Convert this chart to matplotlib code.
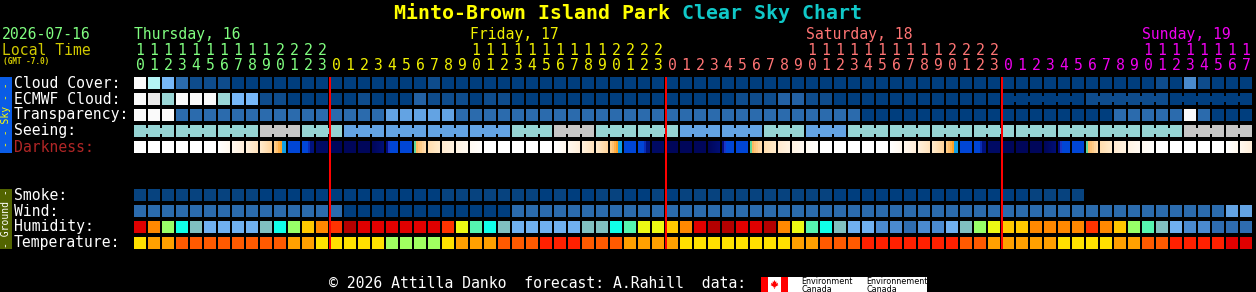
import matplotlib
matplotlib.use("Agg")
import matplotlib.pyplot as plt
from matplotlib.colors import to_rgb
from matplotlib.patches import Rectangle, Polygon
import numpy as np

# ---------------- chart content ----------------
title_yellow = "Minto-Brown Island Park "
title_cyan = "Clear Sky Chart"
date_text = "2026-07-16"
local_time_text = "Local Time"
gmt_text = "(GMT -7.0)"
footer_text = "\u00a9 2026 Attilla Danko  forecast: A.Rahill  data:"
logo_en = ["Environment", "Canada"]
logo_fr = ["Environnement", "Canada"]

day_names = ["Thursday, 16", "Friday, 17", "Saturday, 18", "Sunday, 19"]
day_colors = ["#80FF80", "#F0F000", "#FF7474", "#F000F0"]

# local hour of each forecast column
hours = [10, 11, 12, 13, 14, 15, 16, 17, 18, 19, 20, 21, 22, 23,
         0, 1, 2, 3, 4, 5, 6, 7, 8, 9, 10, 11, 12, 13, 14, 15, 16, 17, 18, 19, 20, 21, 22, 23,
         0, 1, 2, 3, 4, 5, 6, 7, 8, 9, 10, 11, 12, 13, 14, 15, 16, 17, 18, 19, 20, 21, 22, 23,
         0, 1, 2, 3, 4, 5, 6, 7, 8, 9, 10, 11, 12, 13, 14, 15, 16, 17]

sky_labels = ["Cloud Cover:", "ECMWF Cloud:", "Transparency:", "Seeing:", "Darkness:"]
sky_label_colors = ["white", "white", "white", "white", "#B02626"]
ground_labels = ["Smoke:", "Wind:", "Humidity:", "Temperature:"]

# cloud-type palette (0 = dark blue ... 10 = white)
cloud_palette = ["#003E7E", "#0E4C8C", "#2361A3", "#2B6BAD", "#4A8ACC", "#63A3E3",
                 "#77B7F7", "#9AD6D6", "#B4F4F4", "#EAEAEA", "#FAFAFA"]

cloud_cover = [10, 8, 6, 3, 1, 1, 1, 0, 0, 0,
               0, 0, 0, 0, 0, 0, 0, 0, 0, 0,
               0, 1, 0, 0, 0, 0, 0, 0, 0, 0,
               0, 0, 0, 0, 0, 0, 0, 0, 0, 0,
               0, 0, 0, 0, 0, 0, 0, 0, 0, 0,
               0, 0, 0, 0, 0, 0, 0, 0, 0, 0,
               0, 0, 0, 0, 0, 0, 0, 0, 0, 0,
               0, 0, 0, 1, 0, 4, 1, 0, 0, 0]

ecmwf_cloud = [10, 9, 7, 10, 10, 10, 7, 6, 6, 1,
               1, 0, 0, 0, 0, 0, 1, 0, 0, 0,
               2, 1, 1, 1, 0, 1, 1, 0, 0, 0,
               0, 0, 0, 0, 0, 0, 0, 0, 0, 0,
               0, 0, 0, 1, 1, 1, 2, 2, 1, 1,
               0, 0, 0, 0, 0, 0, 0, 0, 0, 0,
               0, 0, 0, 0, 0, 0, 0, 0, 1, 1,
               1, 1, 1, 1, 0, 0, 0, 0, 0, 0]
ecmwf_joined = [(62, 67), (68, 73), (74, 79)]

transparency = [10, 10, 10, 3, 3, 3, 3, 3, 3, 3,
                3, 3, 3, 3, 3, 3, 3, 3, 5, 5,
                5, 5, 5, 3, 3, 3, 3, 3, 3, 3,
                3, 3, 3, 3, 3, 3, 3, 3, 3, 3,
                3, 3, 3, 3, 3, 3, 3, 3, 3, 3,
                3, 3, 0, 0, 0, 0, 0, 0, 0, 0,
                0, 0, 0, 0, 0, 0, 0, 0, 0, 0,
                3, 3, 3, 3, 3, 10, 3, 0, 0, 0]

# seeing, one value per 3-hour block (1 bad, 2 poor, 3 average)
seeing_palette = {1: "#C6C6C6", 2: "#96D4D4", 3: "#63A3E3"}
seeing_blocks = [2, 2, 2, 1, 2, 3, 3, 3, 3, 2, 1, 2, 2, 3,
                 3, 2, 3, 2, 2, 2, 2, 2, 2, 2, 2, 1, 1]

# darkness colours: str = solid, tuple = left->right gradient, list = stripes
DAY = "#FFFFFF"
NIGHT = "#00065A"
BLUE = "#0046D6"
LATE = "#000A64"
EV1 = ("#FFFFFF", "#FFF8EE")
EV2 = ("#FFF8EE", "#FFEEDA")
EV3 = ("#FFF0DC", "#FFE2BC")
EV4 = ("#FFEACC", "#FFD49C")
SUNSET = ["#FFCC84", "#FFC070", "#FFB048", "#FFA024", "#12A0E4", "#12A0E4"]
DUSK = [BLUE, BLUE, BLUE, "#0A2CB4", "#00127E", "#00127E"]
PREDAWN = ("#00065A", "#000E74")
DAWN = ["#000C80", "#1A34C4", BLUE, BLUE, BLUE, BLUE]
SUNRISE = ["#5CD89C", "#FFB860", "#FFC47A", "#FFCC88", "#FFD49C", "#FFDCAC"]
MO1 = ("#FFDEB0", "#FFEACA")
MO2 = ("#FFEAD0", "#FFF2E0")
MO3 = ("#FFF3E4", "#FFF9F0")
MO4 = ("#FFFAF2", "#FFFEFC")
darkness = [DAY, DAY, DAY, DAY, DAY, DAY, EV1, EV2, EV3, EV4, SUNSET, BLUE, DUSK, LATE,
            NIGHT, NIGHT, NIGHT, PREDAWN, DAWN, BLUE, SUNRISE, MO1, MO2, MO3, MO4,
            DAY, DAY, DAY, DAY, DAY, EV1, EV2, EV3, EV4, SUNSET, BLUE, DUSK, LATE,
            NIGHT, NIGHT, NIGHT, PREDAWN, DAWN, BLUE, SUNRISE, MO1, MO2, MO3, MO4,
            DAY, DAY, DAY, DAY, DAY, EV1, EV2, EV3, EV4, SUNSET, BLUE, DUSK, LATE,
            NIGHT, NIGHT, NIGHT, PREDAWN, DAWN, BLUE, SUNRISE, MO1, MO2, MO3, MO4,
            DAY, DAY, DAY, DAY, DAY, EV1, EV2]

smoke_palette = ["#003E7E", "#07437F"]
smoke = [1, 1, 1, 1, 1, 1, 1, 1, 1, 0,
         0, 0, 0, 0, 0, 0, 0, 0, 0, 0,
         0, 0, 1, 1, 1, 1, 1, 1, 1, 0,
         1, 0, 0, 1, 1, 0, 0, 1, 0, 1,
         1, 1, 1, 1, 1, 1, 1, 1, 1, 1,
         0, 0, 0, 0, 0, 0, 0, 0, 0, 0,
         0, 0, 0, 0, 1, 1, 1, 1]

wind_palette = ["#003E7E", "#2B6BAD", "#63A3E3"]
wind = [1, 1, 1, 1, 1, 1, 1, 1, 1, 1,
        1, 1, 1, 1, 1, 0, 0, 0, 0, 0,
        0, 0, 0, 0, 0, 0, 0, 1, 1, 1,
        1, 1, 1, 1, 1, 1, 1, 1, 1, 1,
        1, 1, 1, 1, 1, 1, 1, 1, 1, 1,
        1, 1, 1, 1, 1, 1, 1, 1, 1, 1,
        1, 1, 1, 1, 1, 1, 1, 1, 1, 1,
        1, 1, 1, 1, 1, 1, 1, 1, 2, 2]

humidity_palette = ["#2E6CB0", "#4A8AD0", "#70B0F0", "#80C0C0", "#10FFE8", "#55F5B0",
                    "#98FF68", "#ECFA14", "#FFC800", "#FF8800", "#FF3300", "#E00000", "#B40000"]
humidity = [11, 9, 6, 4, 3, 2, 2, 2, 2, 3,
            4, 6, 8, 9, 10, 12, 11, 11, 11, 11,
            11, 11, 10, 7, 5, 4, 3, 2, 2, 2,
            2, 2, 3, 3, 4, 5, 7, 7, 8, 9,
            11, 12, 12, 11, 11, 12, 9, 7, 5, 4,
            3, 2, 2, 1, 1, 0, 1, 1, 2, 3,
            6, 7, 8, 8, 9, 9, 9, 9, 10, 9,
            8, 6, 5, 3, 2, 1, 1, 0, 0, 0]

temperature_palette = ["#A0FF60", "#FFE000", "#FFA000", "#FF5A00", "#FF2000", "#E00000"]
temperature = [1, 2, 2, 3, 3, 3, 3, 3, 3, 3,
               3, 2, 2, 1, 1, 1, 1, 1, 0, 0,
               0, 0, 1, 2, 2, 2, 3, 3, 3, 4,
               4, 4, 3, 3, 3, 2, 2, 2, 2, 1,
               1, 1, 1, 1, 1, 1, 1, 2, 2, 3,
               3, 3, 4, 4, 4, 4, 4, 4, 4, 3,
               3, 2, 2, 2, 2, 2, 1, 1, 1, 1,
               2, 2, 3, 3, 4, 4, 4, 4, 5, 5]

# ---------------- layout ----------------
W, H = 1256, 292
X0, PITCH, CW, CH = 134, 14, 12, 12
SKY_TOP, GROUND_TOP, ROW_PITCH = 77, 189, 16
MONO = "DejaVu Sans Mono"
FS = 10.65

fig = plt.figure(figsize=(W / 100, H / 100), dpi=100, facecolor="black")
ax = fig.add_axes([0, 0, 1, 1])
ax.set_facecolor("black")
ax.set_xlim(0, W)
ax.set_ylim(H, 0)
ax.axis("off")


def col_x(c):
    return X0 + c * PITCH


def draw_row(top, colors, cols=None):
    if cols is None:
        cols = range(len(colors))
    ax.bar([col_x(c) for c in cols], CH, width=CW, bottom=top, color=list(colors),
           align="edge", linewidth=0, antialiased=False)


def draw_join(top, c, color):
    ax.bar(col_x(c) + CW, 6, width=PITCH - CW, bottom=top + 3, color=color,
           align="edge", linewidth=0, antialiased=False)


ncol = len(hours)
row_tops = [SKY_TOP + i * ROW_PITCH for i in range(5)]
g_tops = [GROUND_TOP + i * ROW_PITCH for i in range(4)]

# cloud cover / ecmwf / transparency
draw_row(row_tops[0], [cloud_palette[v] for v in cloud_cover])
draw_row(row_tops[1], [cloud_palette[v] for v in ecmwf_cloud])
for a, b in ecmwf_joined:
    for c in range(a, b):
        draw_join(row_tops[1], c, cloud_palette[ecmwf_cloud[c]])
draw_row(row_tops[2], [cloud_palette[v] for v in transparency])

# seeing (3 hour blocks)
for bi, v in enumerate(seeing_blocks):
    cols = [c for c in range(bi * 3, bi * 3 + 3) if c < ncol]
    col = seeing_palette[v]
    draw_row(row_tops[3], [col] * len(cols), cols)
    for c in cols[:-1]:
        draw_join(row_tops[3], c, col)

# darkness
xs, ws, cs = [], [], []
for c, spec in enumerate(darkness):
    x = col_x(c)
    if isinstance(spec, str):
        xs.append(x); ws.append(CW); cs.append(spec)
    elif isinstance(spec, tuple):
        a = np.array(to_rgb(spec[0])); b = np.array(to_rgb(spec[1]))
        for k in range(CW):
            t = k / (CW - 1)
            xs.append(x + k); ws.append(1); cs.append(tuple(a * (1 - t) + b * t))
    else:
        w = CW / len(spec)
        for k, cc in enumerate(spec):
            xs.append(x + k * w); ws.append(w); cs.append(cc)
ax.bar(xs, CH, width=ws, bottom=row_tops[4], color=cs, align="edge",
       linewidth=0, antialiased=False)

# ground rows
draw_row(g_tops[0], [smoke_palette[v] for v in smoke])
draw_row(g_tops[1], [wind_palette[v] for v in wind])
draw_row(g_tops[2], [humidity_palette[v] for v in humidity])
draw_row(g_tops[3], [temperature_palette[v] for v in temperature])

# midnight lines
for c, h in enumerate(hours):
    if h == 0 and c > 0:
        ax.add_patch(Rectangle((col_x(c) - 1, SKY_TOP), 2, g_tops[3] + CH - SKY_TOP,
                               color="#FF0000", linewidth=0, antialiased=False, zorder=5))

# ---------------- texts ----------------
t1 = ax.text(W / 2 - 19.5 * 12, 19, title_yellow, color="#FFFF00", fontsize=14.35,
             fontweight="bold", family=MONO, va="baseline", ha="left")
ax.text(W / 2 - 19.5 * 12 + len(title_yellow) * 12, 19, title_cyan, color="#10C8C8",
        fontsize=14.35, fontweight="bold", family=MONO, va="baseline", ha="left")

ax.text(2, 39, date_text, color="#80FF80", fontsize=FS, family=MONO, va="baseline")
ax.text(2, 55, local_time_text, color="#D0C800", fontsize=FS, family=MONO, va="baseline")
ax.text(3, 64, gmt_text, color="#D0C800", fontsize=5.6, family=MONO, va="baseline",
        fontweight="bold")

day = 0
for c, h in enumerate(hours):
    if h == 0 and c > 0:
        day += 1
    col = day_colors[day]
    cx = col_x(c) + CW / 2
    if h == 10:
        ax.text(col_x(c), 39, day_names[day], color=col, fontsize=FS, family=MONO,
                va="baseline", ha="left")
    if h >= 10:
        ax.text(cx, 55, str(h // 10), color=col, fontsize=FS, family=MONO,
                va="baseline", ha="center")
    ax.text(cx, 70.5, str(h % 10), color=col, fontsize=FS, family=MONO,
            va="baseline", ha="center")

for i, lab in enumerate(sky_labels):
    ax.text(14, row_tops[i] + 10.5, lab, color=sky_label_colors[i], fontsize=FS,
            family=MONO, va="baseline")
for i, lab in enumerate(ground_labels):
    ax.text(14, g_tops[i] + 10.5, lab, color="white", fontsize=FS, family=MONO,
            va="baseline")

# side boxes
sky_bottom = row_tops[4] + CH
ax.add_patch(Rectangle((0, SKY_TOP), 12, sky_bottom - SKY_TOP, color="#0A5CE6",
                       linewidth=0, antialiased=False))
ax.text(6, (SKY_TOP + sky_bottom) / 2, "- - Sky - -", rotation=90, color="#FFFF00",
        fontsize=7, family=MONO, ha="center", va="center")
g_bottom = g_tops[3] + CH
ax.add_patch(Rectangle((0, GROUND_TOP), 12, g_bottom - GROUND_TOP, color="#526400",
                       linewidth=0, antialiased=False))
ax.text(6, (GROUND_TOP + g_bottom) / 2, "- Ground -", rotation=90, color="white",
        fontsize=7, family=MONO, ha="center", va="center")

# footer
ax.text(329, 288.5, footer_text, color="white", fontsize=FS, family=MONO, va="baseline")

# Environment Canada logo
LX, LY = 761, 277
ax.add_patch(Rectangle((LX, LY), 166, H - LY, color="white", linewidth=0))
ax.add_patch(Rectangle((LX, LY), 6.5, H - LY, color="#FF0000", linewidth=0))
ax.add_patch(Rectangle((LX + 20, LY), 7, H - LY, color="#FF0000", linewidth=0))
leaf = [(0, -4.5), (1, -2.5), (2, -3), (1.6, -0.8), (3.5, -1.8), (3, 0), (4, 0.5),
        (1, 2.2), (1.2, 3), (0.3, 2.6), (0.3, 4.5), (-0.3, 4.5), (-0.3, 2.6), (-1.2, 3),
        (-1, 2.2), (-4, 0.5), (-3, 0), (-3.5, -1.8), (-1.6, -0.8), (-2, -3), (-1, -2.5)]
ax.add_patch(Polygon([(LX + 13.5 + px, LY + 7.5 + py) for px, py in leaf],
                     closed=True, color="#FF0000", linewidth=0))
for j, s in enumerate(logo_en):
    ax.text(LX + 40.5, LY + 6.5 + j * 8, s, color="black", fontsize=5.8,
            family="DejaVu Sans", va="baseline")
for j, s in enumerate(logo_fr):
    ax.text(LX + 105.5, LY + 6.5 + j * 8, s, color="black", fontsize=5.8,
            family="DejaVu Sans", va="baseline")

fig.savefig("out.png", dpi=100, facecolor="black")
